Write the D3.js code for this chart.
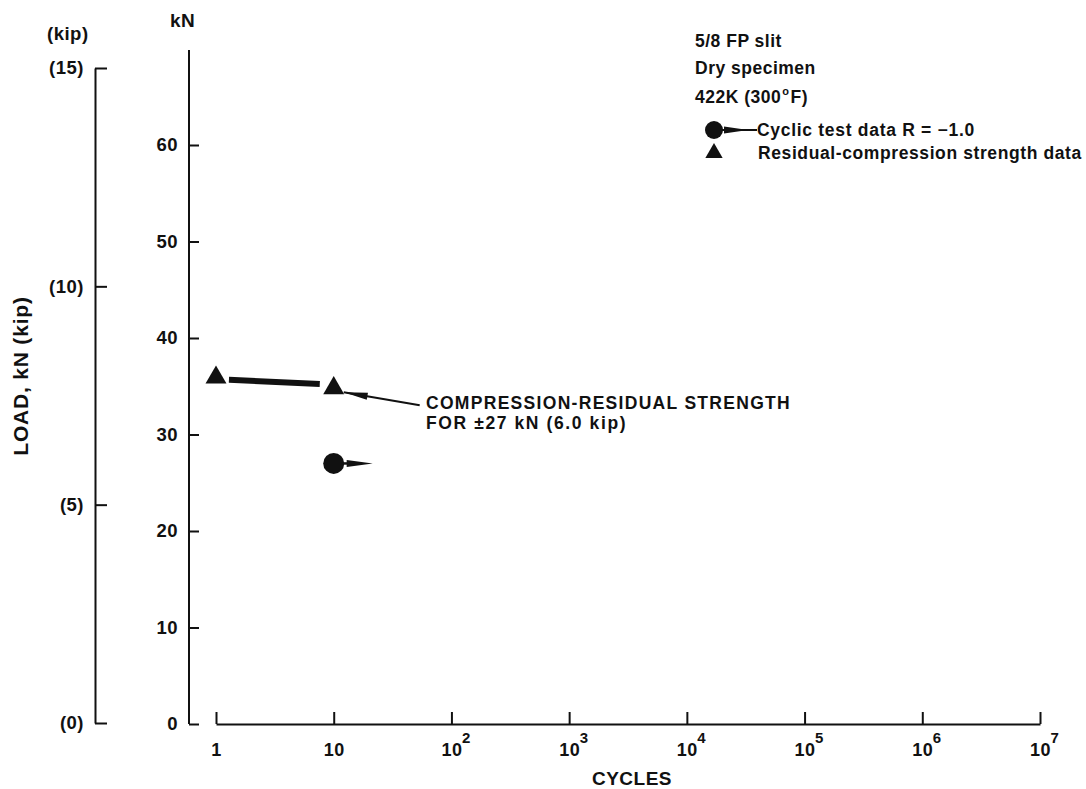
<!DOCTYPE html>
<html><head><meta charset="utf-8">
<script src="https://cdn.jsdelivr.net/npm/d3@7"></script>
<style>
body{margin:0;background:#fff}
svg text{font-family:"Liberation Sans",Arial,Helvetica,sans-serif;font-weight:bold;fill:#111;letter-spacing:0.5px}
</style></head><body>
<svg id="c" width="1086" height="789"></svg>
<script>
// ---- data ----
const cycleTicks = [1, 10, 100, 1000, 1e4, 1e5, 1e6, 1e7];
const kNTicks = [0, 10, 20, 30, 40, 50, 60];
const kipTicks = [0, 5, 10, 15];
const residualCycles = [1, 10];
const residualLoad = [35.9, 34.8];
const cyclicCycles = [10];
const cyclicLoad = [27.0];
const legendNotes = ["5/8 FP slit", "Dry specimen", "422K (300", "F)"];
const legendItems = ["Cyclic test data R = \u22121.0", "Residual-compression strength data"];
const annotation = ["COMPRESSION-RESIDUAL STRENGTH", "FOR \u00B127 kN (6.0 kip)"];

const svg = d3.select("#c");
const ink = "#111";

// ---- scales ----
const x = d3.scaleLog().domain([1, 1e7]).range([216, 1040]);
const y = d3.scaleLinear().domain([0, 60]).range([724, 145]);
const yKip = d3.scaleLinear().domain([0, 15]).range([723, 68]);

// ---- kN axis ----
const gk = svg.append("g").attr("transform", "translate(189,0)")
  .call(d3.axisLeft(y).tickValues(kNTicks).tickSizeInner(-10).tickSizeOuter(0).tickPadding(11));
gk.attr("font-family", null).attr("font-size", null);
gk.select(".domain").remove();
gk.append("line").attr("x1", 0).attr("x2", 0).attr("y1", y(0)).attr("y2", 50)
  .attr("stroke", ink).attr("stroke-width", 2);
gk.selectAll(".tick line").attr("stroke", ink).attr("stroke-width", 2);
gk.selectAll(".tick text").attr("font-size", 18.5).attr("fill", ink);

// ---- kip axis ----
const gp = svg.append("g").attr("transform", "translate(95,0)")
  .call(d3.axisLeft(yKip).tickValues(kipTicks).tickSizeInner(-12).tickSizeOuter(0).tickPadding(11)
    .tickFormat(d => `(${d})`));
gp.attr("font-family", null).attr("font-size", null);
gp.select(".domain").attr("stroke", ink).attr("stroke-width", 2);
gp.selectAll(".tick line").attr("stroke", ink).attr("stroke-width", 2);
gp.selectAll(".tick text").attr("font-size", 18.5).attr("fill", ink);

// ---- x axis ----
const gx = svg.append("g").attr("transform", `translate(0,${y(0)})`)
  .call(d3.axisBottom(x).tickValues(cycleTicks).tickSizeInner(-12).tickSizeOuter(0).tickFormat(""));
gx.attr("font-family", null).attr("font-size", null);
gx.select(".domain").attr("stroke", ink).attr("stroke-width", 2);
gx.selectAll(".tick line").attr("stroke", ink).attr("stroke-width", 2);
gx.selectAll(".tick text").remove();
gx.selectAll(".tick").each(function(d) {
  const t = d3.select(this);
  const e = Math.round(Math.log10(d));
  const base = e === 0 ? "1" : "10";
  t.append("text").attr("y", 32).attr("text-anchor", "middle").attr("font-size", 18).text(base);
  if (e >= 2) {
    t.append("text").attr("x", 10).attr("y", 19).attr("text-anchor", "start")
      .attr("font-size", 15).text(e);
  }
});

// ---- axis titles ----
svg.append("text").attr("x", 47).attr("y", 40).attr("font-size", 18.5).text("(kip)");
svg.append("text").attr("x", 170).attr("y", 27).attr("font-size", 19).text("kN");
svg.append("text").attr("transform", "translate(28,376) rotate(-90)")
  .attr("text-anchor", "middle").attr("font-size", 21).style("letter-spacing", "0.8px").text("LOAD, kN (kip)");
svg.append("text").attr("x", 632).attr("y", 785).attr("text-anchor", "middle")
  .attr("font-size", 19).text("CYCLES");

// ---- data: connecting band between residual points ----
const p0 = [x(residualCycles[0]), y(residualLoad[0])];
const p1 = [x(residualCycles[1]), y(residualLoad[1])];
const dx = p1[0] - p0[0], dy = p1[1] - p0[1], L = Math.hypot(dx, dy);
const ux = dx / L, uy = dy / L;
svg.append("line")
  .attr("x1", p0[0] + ux * 13).attr("y1", p0[1] + uy * 13 + 1)
  .attr("x2", p1[0] - ux * 14).attr("y2", p1[1] - uy * 14 - 3)
  .attr("stroke", ink).attr("stroke-width", 6);

// residual triangles
const tri = d3.symbol().type(d3.symbolTriangle).size(190);
svg.selectAll("path.res").data(residualCycles).join("path").attr("class", "res")
  .attr("d", tri).attr("fill", ink)
  .attr("transform", (d, i) => `translate(${x(d)},${y(residualLoad[i])})`);

// cyclic circles with run-out arrows
cyclicCycles.forEach((c, i) => {
  const cx = x(c), cy = y(cyclicLoad[i]);
  svg.append("circle").attr("cx", cx).attr("cy", cy).attr("r", 10.5).attr("fill", ink);
  svg.append("line").attr("x1", cx + 8).attr("x2", cx + 16).attr("y1", cy).attr("y2", cy)
    .attr("stroke", ink).attr("stroke-width", 2.5);
  svg.append("path").attr("fill", ink)
    .attr("d", `M${cx + 13},${cy - 3.5}L${cx + 39},${cy}L${cx + 13},${cy + 3.5}Z`);
});

// ---- annotation ----
const ax = x(residualCycles[1]), ay = y(residualLoad[1]);
const tip = [ax + 10, ay + 4], tail = [ax + 86, ay + 17];
svg.append("line").attr("x1", tip[0]).attr("y1", tip[1]).attr("x2", tail[0]).attr("y2", tail[1])
  .attr("stroke", ink).attr("stroke-width", 2);
{
  const vx = tail[0] - tip[0], vy = tail[1] - tip[1], l = Math.hypot(vx, vy);
  const ex = vx / l, ey = vy / l, nx = -ey, ny = ex;
  const b = [tip[0] + ex * 24, tip[1] + ey * 24];
  svg.append("path").attr("fill", ink)
    .attr("d", `M${tip[0]},${tip[1]}L${b[0] + nx * 3.5},${b[1] + ny * 3.5}L${b[0] - nx * 3.5},${b[1] - ny * 3.5}Z`);
}
svg.append("text").attr("x", 426).attr("y", 409).attr("font-size", 17.5).style("letter-spacing", "1.3px").text(annotation[0]);
svg.append("text").attr("x", 426).attr("y", 429).attr("font-size", 17.5).style("letter-spacing", "1.6px").text(annotation[1]);

// ---- legend ----
const lg = svg.append("g");
lg.append("text").attr("x", 695).attr("y", 47).attr("font-size", 17.5).text(legendNotes[0]);
lg.append("text").attr("x", 695).attr("y", 74).attr("font-size", 17.5).text(legendNotes[1]);
const t3 = lg.append("text").attr("x", 695).attr("y", 103).attr("font-size", 17.5);
t3.append("tspan").text(legendNotes[2]);
t3.append("tspan").attr("dy", -8).attr("font-size", 11).attr("dx", 1).text("o");
t3.append("tspan").attr("dy", 8).attr("dx", 1).text(legendNotes[3]);

lg.append("circle").attr("cx", 714).attr("cy", 130).attr("r", 9).attr("fill", ink);
lg.append("line").attr("x1", 720).attr("x2", 757).attr("y1", 130).attr("y2", 130)
  .attr("stroke", ink).attr("stroke-width", 2);
lg.append("path").attr("fill", ink).attr("d", "M724,126.5L748,130L724,133.5Z");
lg.append("text").attr("x", 757).attr("y", 136).attr("font-size", 17.5).style("letter-spacing", "0.7px").text(legendItems[0]);

lg.append("path").attr("d", d3.symbol().type(d3.symbolTriangle).size(130)).attr("fill", ink)
  .attr("transform", "translate(714,153)");
lg.append("text").attr("x", 758).attr("y", 159).attr("font-size", 17.5).style("letter-spacing", "0.6px").text(legendItems[1]);
</script>
</body></html>
